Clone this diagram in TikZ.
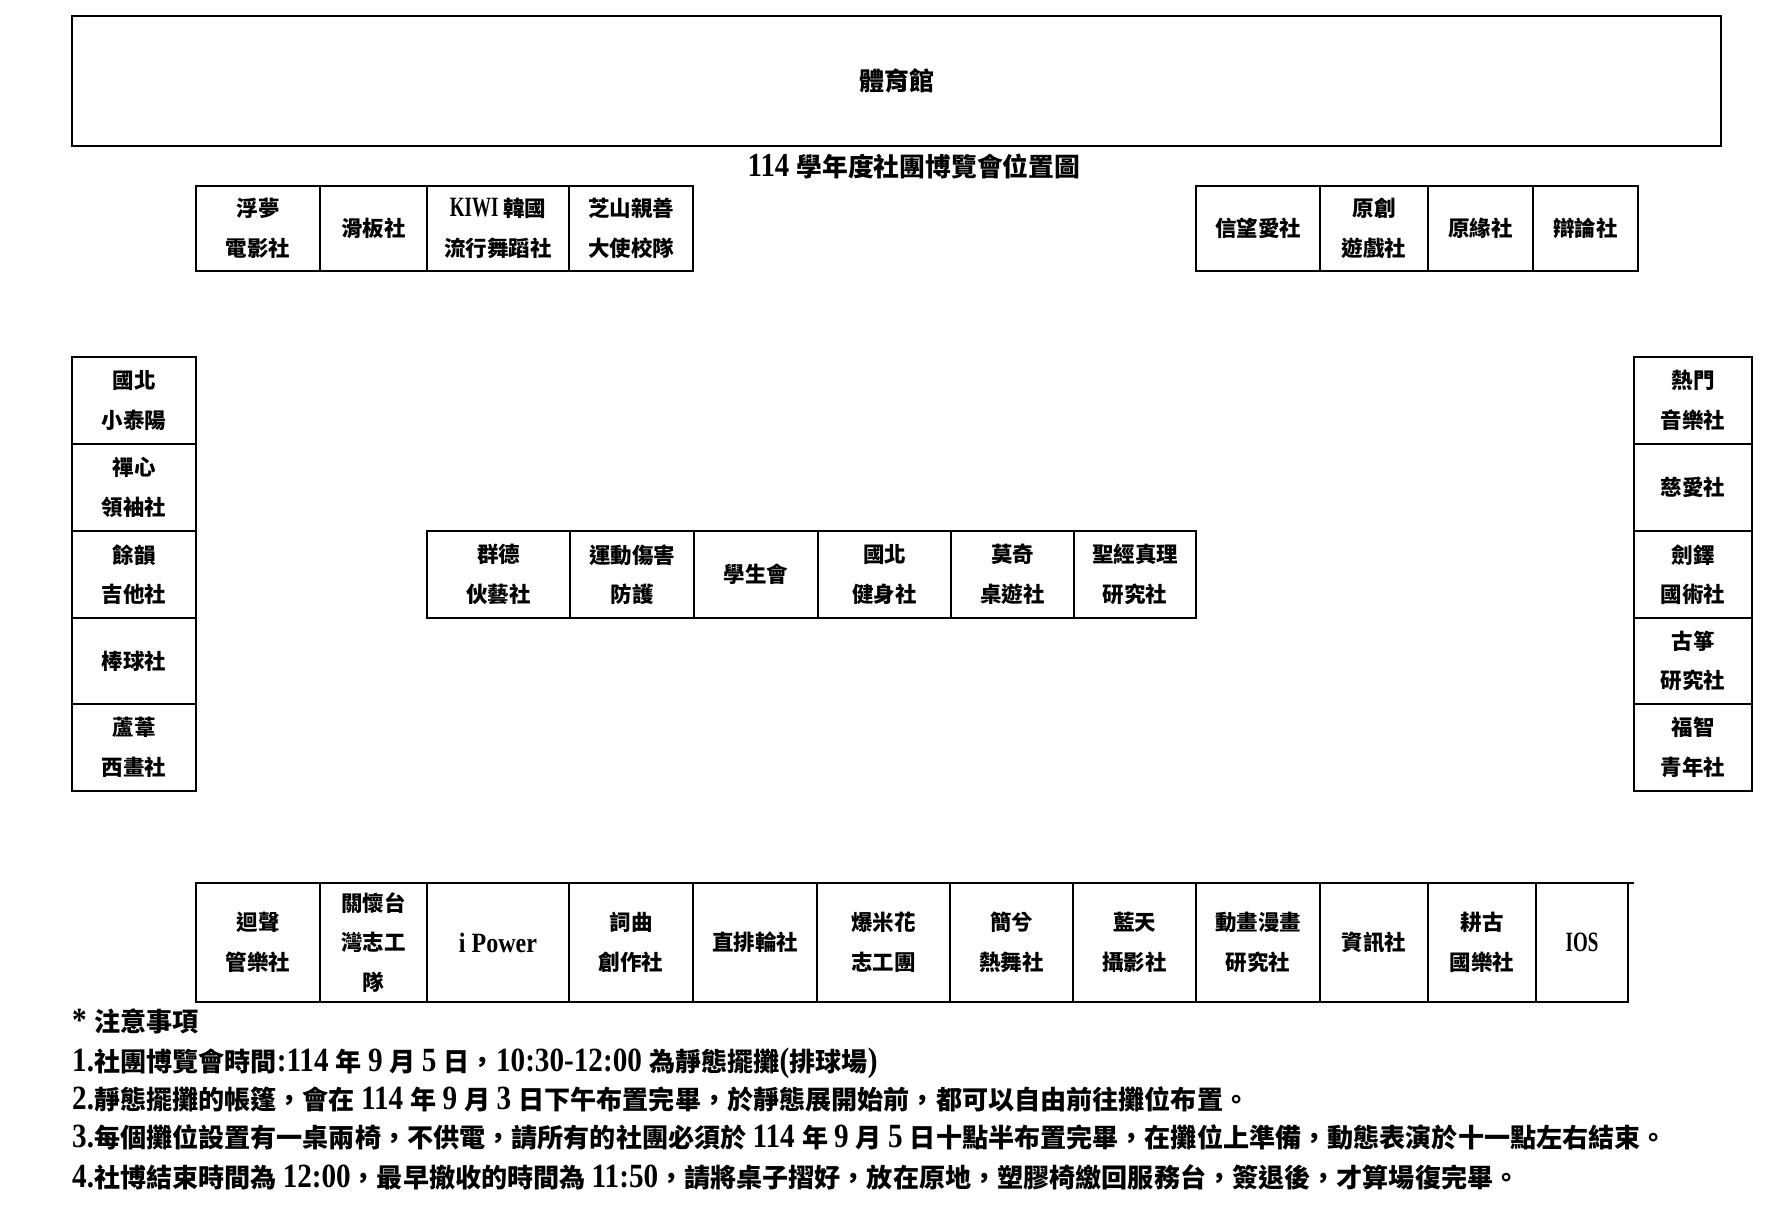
\documentclass[tikz,border=0pt]{standalone}
\usepackage{fontspec}
\setmainfont{Noto Sans CJK TC}
\newfontfamily\latn{Liberation Serif}[Scale=1.3,FakeStretch=0.86]
\newfontfamily\latb{Liberation Serif}[Scale=1.3,FakeStretch=0.68]
\newcommand\booth[6]{%
  \pgfmathsetmacro\bw{#4-#2}\pgfmathsetmacro\bh{#5-#3}%
  \node[booth, minimum width=\bw pt, minimum height=\bh pt] (#1) at ({(#2+#4)/2},{(#3+#5)/2}) {#6};}
\tikzset{
  booth/.style={draw, line width=1.4pt, inner sep=0pt, outer sep=0pt, align=center,
    font=\bfseries\fontsize{21.5}{39.5}\selectfont},
  note/.style={inner sep=0pt, anchor=base west, font=\bfseries\fontsize{26.1}{30}\selectfont},
  heading/.style={inner sep=0pt, font=\bfseries\fontsize{25.8}{30}\selectfont}
}
\begin{document}
\begin{tikzpicture}[x=1pt,y=-1pt]
\useasboundingbox[fill=white] (0,0) rectangle (1785,1214);
% gymnasium
\booth{gym}{72}{16}{1721}{146}{\fontsize{25}{30}\selectfont 體育館}
\node[heading] (title) at (914,166) {{\latn 114 }學年度社團博覽會位置圖};
% top-left row
\booth{fm}{196}{186}{320}{271}{浮夢\\電影社}
\booth{hb}{320}{186}{427}{271}{滑板社}
\booth{kiwi}{427}{186}{569}{271}{{\latb KIWI }韓國\\流行舞蹈社}
\booth{zs}{569}{186}{693}{271}{芝山親善\\大使校隊}
% top-right row
\booth{xw}{1196}{186}{1320}{271}{信望愛社}
\booth{yc}{1320}{186}{1428}{271}{原創\\遊戲社}
\booth{yy}{1428}{186}{1533}{271}{原緣社}
\booth{bl}{1533}{186}{1638}{271}{辯論社}
% left column
\booth{l1}{72}{357}{196}{444}{國北\\小泰陽}
\booth{l2}{72}{444}{196}{531}{禪心\\領袖社}
\booth{l3}{72}{531}{196}{618}{餘韻\\吉他社}
\booth{l4}{72}{618}{196}{704}{棒球社}
\booth{l5}{72}{704}{196}{791}{蘆葦\\西畫社}
% right column
\booth{r1}{1634}{357}{1752}{444}{熱門\\音樂社}
\booth{r2}{1634}{444}{1752}{531}{慈愛社}
\booth{r3}{1634}{531}{1752}{618}{劍鐸\\國術社}
\booth{r4}{1634}{618}{1752}{704}{古箏\\研究社}
\booth{r5}{1634}{704}{1752}{791}{福智\\青年社}
% middle row
\booth{m1}{427}{531}{570}{618}{群德\\伙藝社}
\booth{m2}{570}{531}{694}{618}{運動傷害\\防護}
\booth{m3}{694}{531}{818}{618}{學生會}
\booth{m4}{818}{531}{951}{618}{國北\\健身社}
\booth{m5}{951}{531}{1074}{618}{莫奇\\桌遊社}
\booth{m6}{1074}{531}{1196}{618}{聖經真理\\研究社}
% bottom row
\booth{b1}{196}{883}{320}{1002}{迴聲\\管樂社}
\booth{b2}{320}{883}{427}{1002}{關懷台\\灣志工\\隊}
\booth{b3}{427}{883}{569}{1002}{{\latn i Power}}
\booth{b4}{569}{883}{693}{1002}{詞曲\\創作社}
\booth{b5}{693}{883}{817}{1002}{直排輪社}
\booth{b6}{817}{883}{950}{1002}{爆米花\\志工團}
\booth{b7}{950}{883}{1073}{1002}{簡兮\\熱舞社}
\booth{b8}{1073}{883}{1196}{1002}{藍天\\攝影社}
\booth{b9}{1196}{883}{1320}{1002}{動畫漫畫\\研究社}
\booth{b10}{1320}{883}{1428}{1002}{資訊社}
\booth{b11}{1428}{883}{1536}{1002}{耕古\\國樂社}
\booth{b12}{1536}{883}{1628}{1002}{{\latb IOS}}
\coordinate (bend) at (1634,883);
\draw[line width=1.4pt] (b12.north east) -- (bend);
% notes
\node[note] (n0) at (72,1031) {{\latn * }注意事項};
\node[note] (n1) at (72,1071) {{\latn 1.}社團博覽會時間{\latn :114 }年 {\latn 9 }月 {\latn 5 }日，{\latn 10:30-12:00 }為靜態擺攤{\latn (}排球場{\latn )}};
\node[note] (n2) at (72,1109) {{\latn 2.}靜態擺攤的帳篷，會在 {\latn 114 }年 {\latn 9 }月 {\latn 3 }日下午布置完畢，於靜態展開始前，都可以自由前往攤位布置。};
\node[note] (n3) at (72,1147) {{\latn 3.}每個攤位設置有一桌兩椅，不供電，請所有的社團必須於 {\latn 114 }年 {\latn 9 }月 {\latn 5 }日十點半布置完畢，在攤位上準備，動態表演於十一點左右結束。};
\node[note] (n4) at (72,1187) {{\latn 4.}社博結束時間為 {\latn 12:00}，最早撤收的時間為 {\latn 11:50}，請將桌子摺好，放在原地，塑膠椅繳回服務台，簽退後，才算場復完畢。};
\end{tikzpicture}
\end{document}
